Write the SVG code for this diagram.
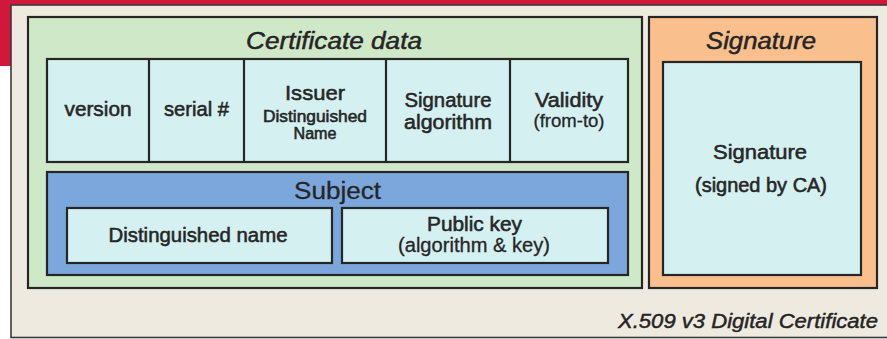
<svg xmlns="http://www.w3.org/2000/svg" width="887" height="339" viewBox="0 0 887 339">
<style>
text{font-family:"Liberation Sans",Arial,sans-serif;fill:#262626;text-anchor:middle}
.b{stroke:#262626;stroke-width:0.55}
.m{stroke:#262626;stroke-width:0.3}
.it{font-style:italic;stroke:#1e1e1e;stroke-width:0.45}
.box{stroke:#262626;stroke-width:2.2}
.cell{fill:#d4f0f0}
</style>
<rect x="0" y="0" width="887" height="339" fill="#ffffff"/>
<rect x="0" y="0" width="887" height="6" fill="#d0183a"/>
<rect x="0" y="0" width="11" height="66" fill="#d0183a"/>
<g id="certificate">
<rect x="11" y="5" width="890" height="332.5" fill="#eeeae0" stroke="#3a3a3a" stroke-width="1.6"/>
<text class="it" x="618" y="328" font-size="20" textLength="260" lengthAdjust="spacingAndGlyphs" style="text-anchor:start">X.509 v3 Digital Certificate</text>
</g>
<g id="certificate-data">
<rect class="box" x="28" y="17" width="614" height="271" fill="#cfe8c8"/>
<text class="it" x="334" y="49" font-size="23" textLength="176" lengthAdjust="spacingAndGlyphs">Certificate data</text>
</g>
<g id="fields">
<rect class="box cell" x="47" y="59" width="581" height="103"/>
<line class="box" x1="149" y1="59" x2="149" y2="162"/>
<line class="box" x1="244" y1="59" x2="244" y2="162"/>
<line class="box" x1="386" y1="59" x2="386" y2="162"/>
<line class="box" x1="510" y1="59" x2="510" y2="162"/>
</g>
<g id="version"><text class="b" x="98" y="116" font-size="20.5" textLength="67" lengthAdjust="spacingAndGlyphs">version</text></g>
<g id="serial"><text class="b" x="196.5" y="116" font-size="20.5" textLength="65" lengthAdjust="spacingAndGlyphs">serial #</text></g>
<g id="issuer">
<text class="b" x="315" y="100" font-size="21" textLength="60" lengthAdjust="spacingAndGlyphs">Issuer</text>
<text class="b" x="315" y="122" font-size="16" textLength="104" lengthAdjust="spacingAndGlyphs">Distinguished</text>
<text class="b" x="315" y="139" font-size="16" textLength="43" lengthAdjust="spacingAndGlyphs">Name</text>
</g>
<g id="sig-alg">
<text class="b" x="448" y="107" font-size="20.5" textLength="87" lengthAdjust="spacingAndGlyphs">Signature</text>
<text class="b" x="448" y="129" font-size="20.5" textLength="88" lengthAdjust="spacingAndGlyphs">algorithm</text>
</g>
<g id="validity">
<text class="b" x="569" y="107" font-size="20.5" textLength="68" lengthAdjust="spacingAndGlyphs">Validity</text>
<text class="m" x="569" y="127" font-size="17.5" textLength="71" lengthAdjust="spacingAndGlyphs">(from-to)</text>
</g>
<g id="subject">
<rect class="box" x="47" y="172" width="581" height="103" fill="#7ba7dc"/>
<text class="m" x="337.5" y="199" font-size="23" textLength="87" lengthAdjust="spacingAndGlyphs">Subject</text>
</g>
<g id="subject-dn">
<rect class="box cell" x="67" y="208" width="265" height="55"/>
<text class="b" x="198" y="242" font-size="20" textLength="179" lengthAdjust="spacingAndGlyphs">Distinguished name</text>
</g>
<g id="public-key">
<rect class="box cell" x="342" y="208" width="266" height="55"/>
<text class="b" x="474.5" y="231" font-size="20" textLength="95" lengthAdjust="spacingAndGlyphs">Public key</text>
<text class="m" x="474" y="252" font-size="19.5" textLength="152" lengthAdjust="spacingAndGlyphs">(algorithm &amp; key)</text>
</g>
<g id="signature">
<rect class="box" x="649" y="17" width="228" height="271" fill="#f9c08e"/>
<text class="it" x="761" y="49" font-size="23" textLength="110" lengthAdjust="spacingAndGlyphs">Signature</text>
<rect class="box cell" x="663" y="62" width="198" height="213"/>
<text class="b" x="760" y="159" font-size="21" textLength="94" lengthAdjust="spacingAndGlyphs">Signature</text>
<text class="b" x="761" y="192" font-size="19.5" textLength="132" lengthAdjust="spacingAndGlyphs">(signed by CA)</text>
</g>
<g id="connectors"></g>
</svg>
